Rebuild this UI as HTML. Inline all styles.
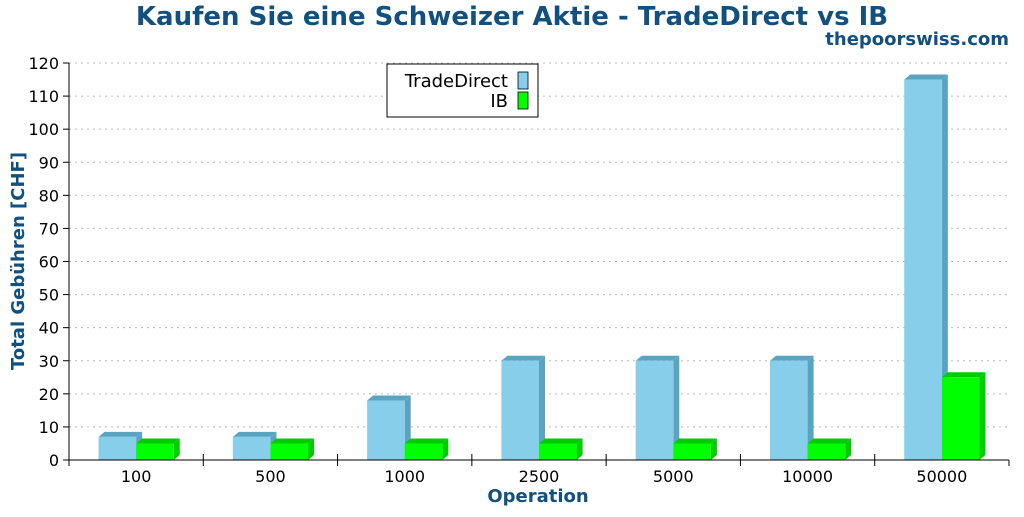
<!DOCTYPE html>
<html><head><meta charset="utf-8"><style>
body{margin:0;background:#fff;width:1024px;height:512px;overflow:hidden}
svg text{font-family:"DejaVu Sans","Liberation Sans",sans-serif}
</style></head><body>
<svg id="c" width="1024" height="512" xmlns="http://www.w3.org/2000/svg">
<text x="512" y="25" text-anchor="middle" font-size="26" font-weight="bold" fill="#11507f">Kaufen Sie eine Schweizer Aktie - TradeDirect vs IB</text>
<text x="1009" y="45" text-anchor="end" font-size="18" font-weight="bold" fill="#11507f">thepoorswiss.com</text>
<g id="grid"></g>
<g id="bars"></g>
<g id="axes"></g>
<text x="538" y="502" text-anchor="middle" font-size="18" font-weight="bold" fill="#11507f">Operation</text>
<text transform="translate(24,261) rotate(-90)" text-anchor="middle" font-size="18" font-weight="bold" fill="#11507f">Total Gebühren [CHF]</text>
<g>
<rect x="387" y="64" width="151" height="53" fill="#fff" stroke="#000"/>
<text x="508" y="87" text-anchor="end" font-size="18">TradeDirect</text>
<rect x="518" y="72" width="10" height="17" fill="#87ceeb" stroke="#000" stroke-width="0.8"/>
<text x="508" y="107" text-anchor="end" font-size="18">IB</text>
<rect x="518" y="92" width="10" height="17" fill="#00ff00" stroke="#000" stroke-width="0.8"/>
</g>
</svg>
<script>
const categories=["100","500","1000","2500","5000","10000","50000"];
const tradeDirect=[7,7,18,30,30,30,115];
const ib=[5,5,5,5,5,5,25];
const yTicks=[0,10,20,30,40,50,60,70,80,90,100,110,120];
const NS="http://www.w3.org/2000/svg";
const X0=69,X1=1009,Y0=460,Y1=63,YMAX=120;
const cw=(X1-X0)/categories.length;
const y=v=>Y0-(v/YMAX)*(Y0-Y1);
function mk(t,a,p){const e=document.createElementNS(NS,t);for(const k in a)e.setAttribute(k,a[k]);p.appendChild(e);return e;}
const grid=document.getElementById('grid'),bars=document.getElementById('bars'),axes=document.getElementById('axes');
yTicks.forEach(t=>{
 if(t>0){const g=mk('line',{x1:X0,x2:X1,y1:y(t),y2:y(t),stroke:'#bbb','stroke-dasharray':'2,4'},grid);
 
 }
 const tk=mk('line',{x1:X0-6,x2:X0,y1:y(t),y2:y(t),stroke:'#000'},axes);
 
 
 const l=mk('text',{x:X0-10,y:y(t)+6,'text-anchor':'end','font-size':16},axes);l.textContent=t;
 
 
});
const bw=cw*0.28,d=6,dy=5;
function bar(x,v,front,top,side,name){
 const yt=y(v);
 const s=mk('polygon',{points:`${x+bw},${Y0} ${x+bw},${yt} ${x+bw+d},${yt-dy} ${x+bw+d},${Y0-dy}`,fill:side},bars);
 
 
 const tp=mk('polygon',{points:`${x},${yt} ${x+d},${yt-dy} ${x+bw+d},${yt-dy} ${x+bw},${yt}`,fill:top},bars);
 
 
 const r=mk('rect',{x:x,y:yt,width:bw,height:Y0-yt,fill:front},bars);
 
 
}
categories.forEach((c,i)=>{
 const cx=X0+cw*(i+0.5);
 bar(cx-bw,tradeDirect[i],'#87ceeb','#5ba4bf','#5ba4bf','bar-tradedirect-'+c);
 bar(cx,ib[i],'#00ff00','#00cc00','#00cc00','bar-ib-'+c);
 const l=mk('text',{x:cx,y:482,'text-anchor':'middle','font-size':16},axes);l.textContent=c;
 
 
 if(i>0){const t=mk('line',{x1:X0+cw*i,x2:X0+cw*i,y1:Y0-6,y2:Y0+6,stroke:'#000'},axes);
 
 }
});
const xa=mk('line',{x1:X0,x2:X1,y1:Y0,y2:Y0,stroke:'#000'},axes);


const ya=mk('line',{x1:X0,x2:X0,y1:Y1,y2:Y0+6,stroke:'#000'},axes);


const xe=mk('line',{x1:X1,x2:X1,y1:Y0,y2:Y0+6,stroke:'#000'},axes);


</script>
</body></html>
